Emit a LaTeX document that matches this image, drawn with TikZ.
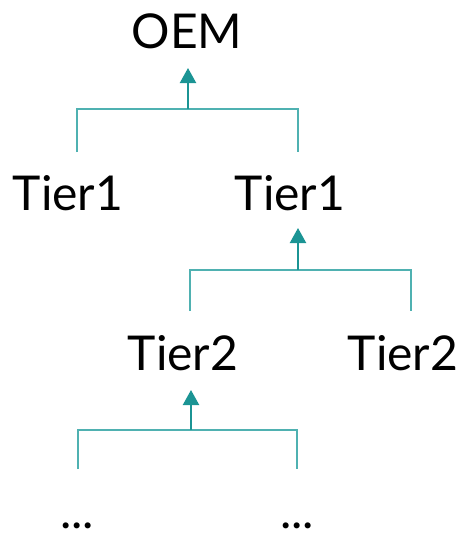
\documentclass[tikz,border=0pt]{standalone}
\usepackage{fontspec}
\setmainfont{Lato}
\usetikzlibrary{arrows.meta}
\definecolor{tealline}{HTML}{4FB1B1}
\definecolor{tealarrow}{HTML}{1B9494}
\begin{document}
\begin{tikzpicture}[x=1pt,y=-1pt,
  lbl/.style={anchor=base,inner sep=0pt,font=\fontsize{48}{54}\selectfont,text=black},
  br/.style={draw=tealline,line width=2pt},
  arr/.style={draw=tealarrow,line width=2.2pt,-{Triangle[width=16pt,length=15pt]}}]
\useasboundingbox (0,0) rectangle (466,536);
\node[lbl] (oem) at (187,48) {OEM};
\node[lbl] (t1a) at (68,210) {Tier1};
\node[lbl] (t1b) at (290,210) {Tier1};
\node[lbl] (t2a) at (183,370) {Tier2};
\node[lbl] (t2b) at (403,370) {Tier2};
\node[lbl] (d1) at (77,528) {...};
\node[lbl] (d2) at (297,528) {...};
% level 1
\coordinate (j1) at (188,109);
\coordinate (a1) at (188,68);
\coordinate (l1a) at (77,152);
\coordinate (l1b) at (298,152);
\draw[br] (l1a) |- (j1) -| (l1b);
\draw[arr] (j1) -- (a1);
% level 2
\coordinate (j2) at (298,270);
\coordinate (a2) at (298,228);
\coordinate (l2a) at (190,311);
\coordinate (l2b) at (411,311);
\draw[br] (l2a) |- (j2) -| (l2b);
\draw[arr] (j2) -- (a2);
% level 3
\coordinate (j3) at (191,430);
\coordinate (a3) at (191,390);
\coordinate (l3a) at (78,469);
\coordinate (l3b) at (297,469);
\draw[br] (l3a) |- (j3) -| (l3b);
\draw[arr] (j3) -- (a3);
\end{tikzpicture}
\end{document}
